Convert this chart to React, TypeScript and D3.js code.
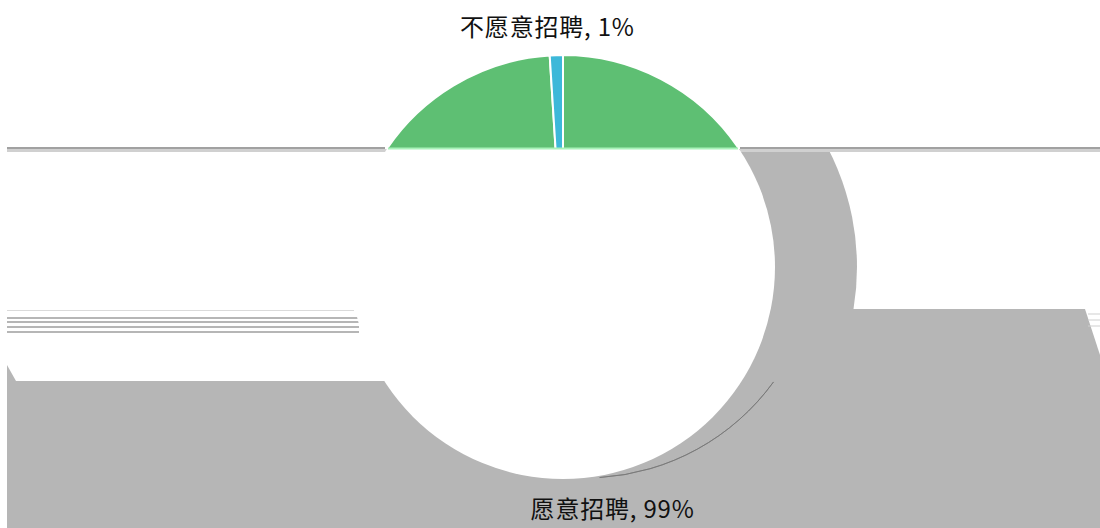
import React from "react";
import * as d3 from "d3";

// data
const labels = ["愿意招聘", "不愿意招聘"];
const values = [99, 1];
const colors = ["#5EBF73", "#3DB8D9"];

const W = 1100;
const H = 528;
const cx = 563;
const cy = 267;
const radius = 212;
const cutY = 148; // the pie is only painted above this line
const grey = "#B6B6B6";
const font = "'Noto Sans CJK SC', 'Noto Sans', sans-serif";

export default function App() {
  const slices = d3.pie<number>().sort(null).value(d => d)(values);
  const arc = d3.arc<d3.PieArcDatum<number>>().innerRadius(0).outerRadius(radius);
  const labelArc = d3.arc<d3.PieArcDatum<number>>().innerRadius(radius + 30).outerRadius(radius + 30);
  const total = d3.sum(values);
  const pct = d3.format(".0%");

  // outer shadow circle on the right side
  const shadow = { x: cx + 37, r: 257 };
  const faint = d3.arc()({ innerRadius: 233, outerRadius: 233, startAngle: Math.PI * 0.7, endAngle: Math.PI * 0.98 } as any);

  return (
    <svg width={W} height={H} style={{ position: "absolute", left: 0, top: 0, background: "#fff" }}>
      <defs>
        <clipPath id="top">
          <rect x={0} y={0} width={W} height={cutY} />
        </clipPath>
        <clipPath id="band">
          <rect x={cx} y={cutY + 1} width={W - cx} height={309 - cutY - 1} />
        </clipPath>
      </defs>

      {/* grey artefacts behind the disk */}
      <circle cx={shadow.x} cy={cy} r={shadow.r} fill={grey} clipPath="url(#band)" />
      <rect x={cx} y={309} width={1085 - cx} height={72} fill={grey} />
      <path d="M1085,309 L1100,355 L1100,381 L1085,381 Z" fill={grey} />
      <rect x={7} y={381} width={W - 7} height={H - 381} fill={grey} />
      <path d="M7,365 L16,381 L7,381 Z" fill={grey} />
      <line x1={7} x2={354} y1={310.5} y2={310.5} stroke="#dadada" strokeWidth={1} />
      {[318, 322, 327, 332].map((y, i) => (
        <line key={i} x1={7} x2={359} y1={y} y2={y} stroke={grey} strokeWidth={1.8} />
      ))}
      {[314, 320, 326].map((y, i) => (
        <line key={"r" + i} x1={1088} x2={W} y1={y} y2={y} stroke="#cfcfcf" strokeWidth={1} />
      ))}

      {/* top rule left and right of the pie */}
      <rect x={7} y={cutY + 1} width={380} height={3} fill="#d0d0d0" />
      <rect x={740} y={cutY + 1} width={W - 740} height={3} fill="#d0d0d0" />
      <line x1={7} x2={385} y1={cutY} y2={cutY} stroke="#444" strokeWidth={1.2} />
      <line x1={740} x2={W} y1={cutY} y2={cutY} stroke="#444" strokeWidth={1.2} />

      {/* the disk */}
      <circle cx={cx} cy={cy} r={radius} fill="#fff" />
      <path d={faint as string} transform={`translate(${cx + 22},${cy - 22})`} fill="none" stroke="#777" strokeWidth={0.8} />

      <g clipPath="url(#top)">
        <g transform={`translate(${cx},${cy})`}>
          {slices.map((s, i) => (
            <path key={i} d={arc(s) as string} fill={colors[i]} stroke="#fff" strokeWidth={2} />
          ))}
        </g>
      </g>
      <line x1={cx - 175} x2={cx + 175} y1={cutY + 0.5} y2={cutY + 0.5} stroke="#A8F2B9" strokeWidth={2} />

      {slices.map((s, i) => {
        const [lx, ly] = labelArc.centroid(s);
        const dx = i === 0 ? 42 : -8;
        const dy = i === 0 ? 9 : 11;
        return (
          <text key={"t" + i} x={cx + lx + dx} y={cy + ly + dy} textAnchor="middle" fontFamily={font} fontSize={24} letterSpacing={0.8} fill="#111">
            {`${labels[i]}, ${pct(values[i] / total)}`}
          </text>
        );
      })}
    </svg>
  );
}
